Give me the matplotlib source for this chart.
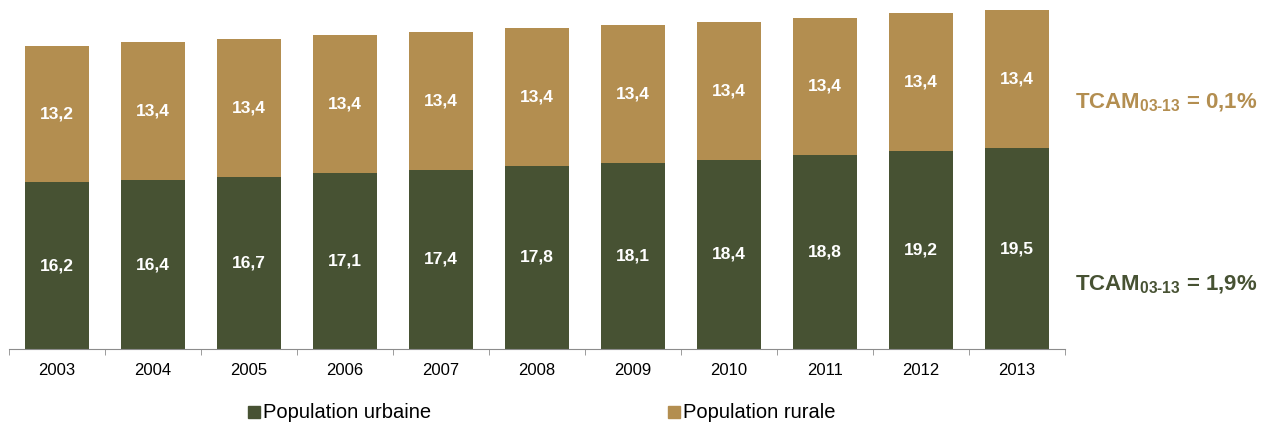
import numpy as np
import matplotlib
matplotlib.use("Agg")
import matplotlib.pyplot as plt

# ---- Data ----
years = ["2003", "2004", "2005", "2006", "2007", "2008", "2009", "2010", "2011", "2012", "2013"]
urbaine = [16.2, 16.4, 16.7, 17.1, 17.4, 17.8, 18.1, 18.4, 18.8, 19.2, 19.5]
rurale = [13.2, 13.4, 13.4, 13.4, 13.4, 13.4, 13.4, 13.4, 13.4, 13.4, 13.4]
tcam_rurale = "0,1%"
tcam_urbaine = "1,9%"

# ---- Style ----
C_URB = "#475233"
C_RUR = "#B38E50"
AXIS_GRAY = "#8C8C8C"

plt.rcParams["font.family"] = ["Liberation Sans", "DejaVu Sans"]
plt.rcParams["mathtext.fontset"] = "custom"
plt.rcParams["mathtext.rm"] = "Liberation Sans:bold"
plt.rcParams["mathtext.bf"] = "Liberation Sans:bold"

W, H = 1269, 428
fig = plt.figure(figsize=(W / 100, H / 100), dpi=100)
ax = fig.add_axes([9 / W, (H - 349) / H, (1065 - 9) / W, 349 / H])

x = np.arange(len(years))
bw = 64 / 96
ax.bar(x, urbaine, width=bw, color=C_URB)
ax.bar(x, rurale, width=bw, bottom=urbaine, color=C_RUR)

for xi, u, r in zip(x, urbaine, rurale):
    ax.text(xi, u / 2, f"{u:.1f}".replace(".", ","), ha="center", va="center",
            color="white", fontsize=12.5, fontweight="bold")
    ax.text(xi, u + r / 2, f"{r:.1f}".replace(".", ","), ha="center", va="center",
            color="white", fontsize=12.5, fontweight="bold")

ax.set_xlim(-0.5, len(years) - 0.5)
ax.set_ylim(0, 33.9)
for s in ("top", "right", "left"):
    ax.spines[s].set_visible(False)
ax.spines["bottom"].set_color(AXIS_GRAY)
ax.set_yticks([])
ax.set_xticks(x)
ax.set_xticklabels(years, fontsize=12)
ax.tick_params(axis="x", length=0, pad=10)
ax.set_xticks(np.arange(len(years) + 1) - 0.5, minor=True)
ax.tick_params(axis="x", which="minor", length=4, color=AXIS_GRAY)

# TCAM annotations
fig.text(1075 / W, 1 - 103 / H, r"$\mathrm{TCAM}_{\mathrm{03\text{-}13}}$" + " = " + tcam_rurale,
         color=C_RUR, fontsize=16, fontweight="bold", va="center", ha="left")
fig.text(1075 / W, 1 - 285 / H, r"$\mathrm{TCAM}_{\mathrm{03\text{-}13}}$" + " = " + tcam_urbaine,
         color=C_URB, fontsize=16, fontweight="bold", va="center", ha="left")

# Legend
for lx, col, lab in [(248, C_URB, "Population urbaine"), (668, C_RUR, "Population rurale")]:
    fig.patches.append(plt.Rectangle((lx / W, 1 - 418 / H), 12 / W, 12 / H,
                                     transform=fig.transFigure, color=col))
    fig.text((lx + 15) / W, 1 - 412 / H, lab, fontsize=14.5, va="center", ha="left")

fig.savefig("out.png", dpi=100)
